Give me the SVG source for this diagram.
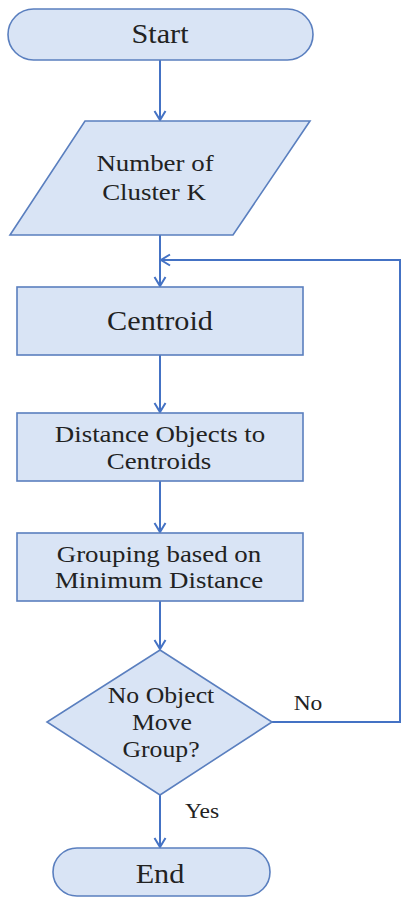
<svg xmlns="http://www.w3.org/2000/svg" width="401" height="899" viewBox="0 0 401 899">
<defs>
<style>
.shape{fill:#d9e4f5;stroke:#5a7fbf;stroke-width:1.6}
.conn{fill:none;stroke:#4472c4;stroke-width:2}
</style>
<marker id="arr" markerUnits="userSpaceOnUse" markerWidth="14" markerHeight="14" viewBox="0 0 14 14" refX="12" refY="7" orient="auto">
<path d="M3,1.5 L12,7 L3,12.5" fill="none" stroke="#4472c4" stroke-width="2"/>
</marker>
</defs>
<rect width="401" height="899" fill="#ffffff"/>
<g id="connectors">
<line class="conn" x1="160" y1="60" x2="160" y2="120" marker-end="url(#arr)"/>
<line class="conn" x1="160" y1="235" x2="160" y2="286" marker-end="url(#arr)"/>
<line class="conn" x1="160" y1="355" x2="160" y2="412" marker-end="url(#arr)"/>
<line class="conn" x1="160" y1="481" x2="160" y2="532" marker-end="url(#arr)"/>
<line class="conn" x1="160" y1="601" x2="160" y2="649" marker-end="url(#arr)"/>
<line class="conn" x1="160" y1="795" x2="160" y2="847" marker-end="url(#arr)"/>
<polyline class="conn" points="272,722 400,722 400,260 161,260" marker-end="url(#arr)"/>
<text style="font-family:'Liberation Serif';font-size:21px;fill:#222;text-anchor:middle" transform="translate(308,710) scale(1.12,1)">No</text>
<text style="font-family:'Liberation Serif';font-size:21px;fill:#222;text-anchor:middle" transform="translate(202,818) scale(1.12,1)">Yes</text>
</g>
<g id="start">
<rect class="shape" x="8" y="9" width="305" height="51" rx="25.5" ry="25.5"/>
<text style="font-family:'Liberation Serif';font-size:27px;fill:#222;text-anchor:middle" transform="translate(160,43) scale(1.12,1)">Start</text>
</g>
<g id="input">
<polygon class="shape" points="85,121 310,121 233,235 10,235"/>
<text style="font-family:'Liberation Serif';font-size:24px;fill:#222;text-anchor:middle" transform="translate(155,171) scale(1.12,1)">Number of</text>
<text style="font-family:'Liberation Serif';font-size:24px;fill:#222;text-anchor:middle" transform="translate(154,200) scale(1.12,1)">Cluster K</text>
</g>
<g id="centroid">
<rect class="shape" x="17" y="287" width="286" height="68"/>
<text style="font-family:'Liberation Serif';font-size:27px;fill:#222;text-anchor:middle" transform="translate(160,330) scale(1.12,1)">Centroid</text>
</g>
<g id="distance">
<rect class="shape" x="17" y="413" width="286" height="68"/>
<text style="font-family:'Liberation Serif';font-size:24px;fill:#222;text-anchor:middle" transform="translate(160,442) scale(1.12,1)">Distance Objects to</text>
<text style="font-family:'Liberation Serif';font-size:24px;fill:#222;text-anchor:middle" transform="translate(159,469) scale(1.12,1)">Centroids</text>
</g>
<g id="grouping">
<rect class="shape" x="17" y="533" width="286" height="68"/>
<text style="font-family:'Liberation Serif';font-size:24px;fill:#222;text-anchor:middle" transform="translate(159,562) scale(1.12,1)">Grouping based on</text>
<text style="font-family:'Liberation Serif';font-size:24px;fill:#222;text-anchor:middle" transform="translate(159,588) scale(1.12,1)">Minimum Distance</text>
</g>
<g id="decision">
<polygon class="shape" points="160,650 272,722 160,795 47,722"/>
<text style="font-family:'Liberation Serif';font-size:23px;fill:#222;text-anchor:middle" transform="translate(161,703) scale(1.12,1)">No Object</text>
<text style="font-family:'Liberation Serif';font-size:23px;fill:#222;text-anchor:middle" transform="translate(162,730) scale(1.12,1)">Move</text>
<text style="font-family:'Liberation Serif';font-size:23px;fill:#222;text-anchor:middle" transform="translate(161,757) scale(1.12,1)">Group?</text>
</g>
<g id="end">
<rect class="shape" x="53" y="848" width="217" height="48" rx="24" ry="24"/>
<text style="font-family:'Liberation Serif';font-size:27px;fill:#222;text-anchor:middle" transform="translate(160,883) scale(1.12,1)">End</text>
</g>
</svg>
